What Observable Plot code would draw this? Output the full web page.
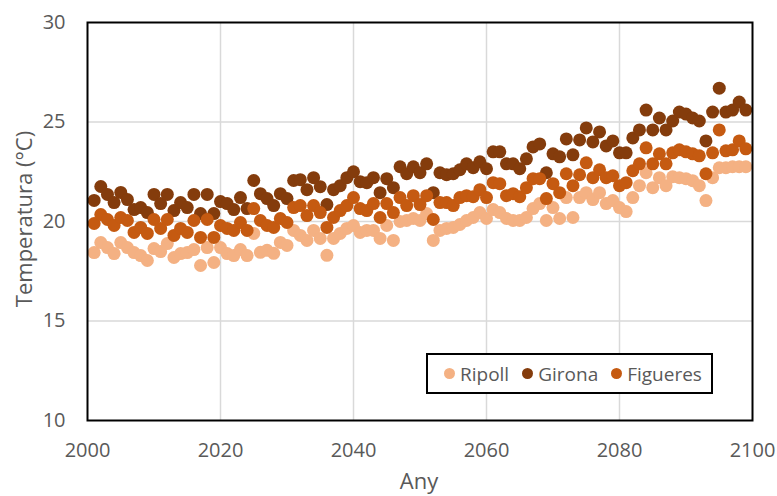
<!DOCTYPE html>
<html>
<head>
<meta charset="utf-8">
<script src="https://cdn.jsdelivr.net/npm/d3@7"></script>
<script src="https://cdn.jsdelivr.net/npm/@observablehq/plot@0.6"></script>
<style>
  html, body { margin: 0; padding: 0; background: #fff; }
  #wrap { position: relative; width: 777px; height: 496px; font-family: "Open Sans", sans-serif; color: #595959; }
  #ylabel { position: absolute; left: 23px; top: 219px; transform: translate(-50%, -50%) rotate(-90deg); font-size: 22px; white-space: nowrap; }
  #xlabel { position: absolute; left: 419px; top: 480px; transform: translate(-50%, -50%); font-size: 22px; line-height: 26px; white-space: nowrap; }
  #legend { position: absolute; left: 426px; top: 353px; width: 283px; height: 37px; border: 2px solid #000; background: #fff; display: flex; align-items: center; font-size: 19px; }
  .item { display: flex; align-items: center; margin-left: 13px; }
  .item:first-child { margin-left: 16px; }
  .sw { width: 11px; height: 11px; border-radius: 50%; display: inline-block; margin-right: 5px; }
</style>
</head>
<body>
<div id="wrap">
  <div id="chart"></div>
  <div id="ylabel">Temperatura (°C)</div>
  <div id="xlabel">Any</div>
  <div id="legend"></div>
</div>
<script>
const seriesNames = ["Ripoll", "Girona", "Figueres"];
const seriesColors = ["#F4B183", "#843C0C", "#C55A11"];
const years = d3.range(2001, 2100);
const xTicks = [2000, 2020, 2040, 2060, 2080, 2100];
const yTicks = [10, 15, 20, 25, 30];

const ripoll = [
  18.44, 18.94, 18.69, 18.39, 18.94, 18.69, 18.44, 18.29, 18.04, 18.64, 18.49, 18.89, 18.19, 18.39, 18.44, 18.59, 17.79, 18.69, 17.94, 18.69, 18.39, 18.29, 18.59, 18.29,
  19.4, 18.45, 18.55, 18.4, 18.95, 18.8, 19.55, 19.3, 19.05, 19.55, 19.15, 18.3, 19.15, 19.4, 19.65, 19.8, 19.45, 19.55, 19.55, 19.15, 19.8, 19.05, 20.0, 20.05, 20.15, 20.05,
  20.4, 19.05, 19.55, 19.65, 19.7, 19.85, 20.05, 20.2, 20.45, 20.15, 20.6, 20.45, 20.15, 20.05, 20.05, 20.2, 20.65, 20.9, 20.05, 20.7, 20.15, 21.2, 20.2, 21.2, 21.45,
  21.1, 21.45, 20.9, 21.05, 20.7, 20.5, 21.2, 21.8, 22.45, 21.7, 22.2, 21.8, 22.25, 22.2, 22.15, 22.05, 21.8, 21.05, 22.2, 22.7, 22.7, 22.75, 22.75, 22.75
];
const girona = [
  21.06, 21.76, 21.36, 20.95, 21.46, 21.1, 20.6, 20.7, 20.45, 21.36, 20.9, 21.36, 20.55, 20.95, 20.7, 21.36, 20.4, 21.36, 20.4, 21.0, 20.9, 20.6, 21.2, 20.65,
  22.06, 21.4, 21.15, 20.8, 21.4, 21.15, 22.06, 22.1, 21.6, 22.2, 21.75, 20.85, 21.6, 21.8, 22.2, 22.5, 22.0, 21.95, 22.2, 21.45, 22.15, 21.7, 22.75, 22.4, 22.75, 22.45,
  22.9, 21.45, 22.45, 22.35, 22.4, 22.6, 22.9, 22.7, 23.0, 22.65, 23.5, 23.5, 22.9, 22.9, 22.65, 23.15, 23.75, 23.9, 22.45, 23.4, 23.25, 24.15, 23.35, 24.1, 24.7,
  24.0, 24.5, 23.8, 24.05, 23.45, 23.45, 24.2, 24.6, 25.6, 24.6, 25.2, 24.6, 25.05, 25.5, 25.4, 25.2, 25.05, 24.05, 25.5, 26.7, 25.5, 25.6, 26.0, 25.6
];
const figueres = [
  19.9, 20.35, 20.1, 19.8, 20.2, 20.05, 19.45, 19.7, 19.4, 20.1, 19.65, 20.1, 19.3, 19.65, 19.45, 20.05, 19.2, 20.1, 19.2, 19.8, 19.65, 19.55, 19.95, 19.55,
  20.65, 20.05, 19.8, 19.7, 20.15, 19.95, 20.7, 20.8, 20.3, 20.8, 20.45, 19.7, 20.2, 20.55, 20.8, 21.2, 20.65, 20.55, 20.9, 20.2, 20.9, 20.45, 21.2, 20.8, 21.3, 20.85,
  21.3, 20.1, 20.95, 20.95, 20.8, 21.2, 21.3, 21.25, 21.6, 21.2, 21.95, 21.9, 21.3, 21.4, 21.25, 21.7, 22.15, 22.15, 21.15, 21.9, 21.45, 22.4, 21.8, 22.35, 22.95,
  22.2, 22.6, 22.2, 22.3, 21.8, 21.95, 22.55, 22.9, 23.7, 22.9, 23.4, 22.9, 23.45, 23.6, 23.5, 23.4, 23.3, 22.4, 23.45, 24.6, 23.55, 23.6, 24.05, 23.65
];

const seriesValues = [ripoll, girona, figueres];
const data = [];
seriesNames.forEach((name, i) => {
  years.forEach((yr, j) => data.push({series: name, year: yr, temp: seriesValues[i][j]}));
});

const chart = Plot.plot({
  width: 777,
  height: 496,
  marginLeft: 87,
  marginRight: 25,
  marginTop: 22,
  marginBottom: 76,
  style: {fontFamily: "'Open Sans', sans-serif", fontSize: "20px", color: "#595959", background: "#fff"},
  x: {domain: [2000, 2100], ticks: xTicks, tickFormat: d => String(d), tickSize: 0, tickPadding: 22, label: null},
  y: {domain: [10, 30], ticks: yTicks, tickSize: 0, tickPadding: 22, label: null},
  color: {domain: seriesNames, range: seriesColors},
  marks: [
    Plot.ruleX(xTicks.slice(1, -1), {stroke: "#d9d9d9", strokeWidth: 1.5}),
    Plot.ruleY(yTicks.slice(1, -1), {stroke: "#d9d9d9", strokeWidth: 1.5}),
    Plot.dot(data, {x: "year", y: "temp", fill: "series", r: 6.5, stroke: "none"}),
    Plot.frame({stroke: "#000", strokeWidth: 2})
  ]
});
document.getElementById("chart").appendChild(chart);

const legend = document.getElementById("legend");
seriesNames.forEach((name, i) => {
  const it = document.createElement("div");
  it.className = "item";
  const sw = document.createElement("span");
  sw.className = "sw";
  sw.style.background = seriesColors[i];
  const tx = document.createElement("span");
  tx.textContent = name;
  it.appendChild(sw);
  it.appendChild(tx);
  legend.appendChild(it);
});
</script>
</body>
</html>
